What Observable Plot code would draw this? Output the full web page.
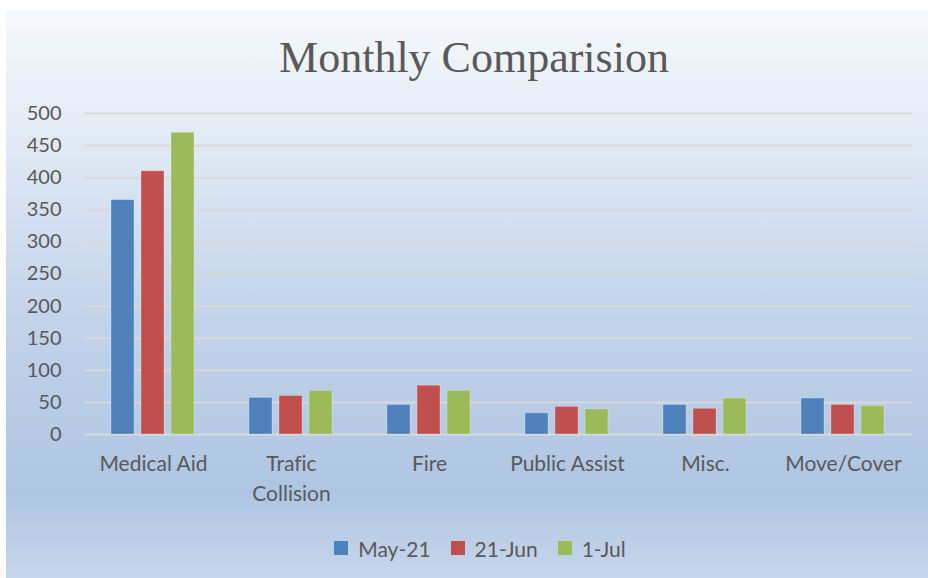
<!DOCTYPE html>
<html>
<head>
<meta charset="utf-8">
<script src="https://cdn.jsdelivr.net/npm/d3@7"></script>
<script src="https://cdn.jsdelivr.net/npm/@observablehq/plot@0.6"></script>
<style>
  html, body { margin: 0; padding: 0; background: #ffffff; }
  #chart {
    position: absolute; left: 6px; top: 10px; width: 922px; height: 568px;
    background: linear-gradient(to bottom, #f6f9fd 0%, #dfe8f4 25%, #c2d3e9 55%, #afc5e2 85%, #c6d7eb 100%);
    font-family: Lato, "Open Sans", sans-serif; color: #595959;
    font-variant-ligatures: none;
  }
  #chart svg text { font-variant-ligatures: none; }
  #title {
    height: 90px; box-sizing: border-box; padding-top: 23px; padding-left: 14px;
    text-align: center; font-family: "Liberation Serif", serif; font-size: 44px; color: #595959;
    line-height: 50px;
  }
  #legend {
    height: 58px; display: flex; justify-content: center; align-items: center;
    font-size: 21px; gap: 20px; padding-left: 26px; padding-bottom: 2px; box-sizing: border-box;
  }
  .item { display: flex; align-items: center; gap: 10px; }
  .sw { width: 14px; height: 14px; display: inline-block; }
</style>
</head>
<body>
<div id="chart">
  <div id="title">Monthly Comparision</div>
  <div id="plot"></div>
  <div id="legend"></div>
</div>
<script>
const categories = ["Medical Aid", "Trafic Collision", "Fire", "Public Assist", "Misc.", "Move/Cover"];
const categoryLabels = ["Medical Aid", "Trafic\nCollision", "Fire", "Public Assist", "Misc.", "Move/Cover"];
const series = ["May-21", "21-Jun", "1-Jul"];
const colors = ["#4f81bd", "#c0504d", "#9bbb59"];
const may21 = [365, 57, 46, 33, 46, 56];
const jun21 = [410, 60, 76, 43, 40, 46];
const jul1  = [470, 68, 68, 39, 56, 44];
const yTicks = [0, 50, 100, 150, 200, 250, 300, 350, 400, 450, 500];

const values = [may21, jun21, jul1];
const data = [];
categories.forEach((c, i) => series.forEach((s, j) => data.push({category: c, series: s, value: values[j][i]})));
const labelOf = new Map(categories.map((c, i) => [c, categoryLabels[i]]));

const chart = Plot.plot({
  width: 922,
  height: 420,
  marginTop: 13,
  marginBottom: 86,
  marginLeft: 77,
  marginRight: 16,
  style: {background: "transparent", fontFamily: "Lato, 'Open Sans', sans-serif", color: "#595959"},
  fx: {domain: categories, padding: 0, label: null},
  x: {domain: series, paddingInner: 0.22, paddingOuter: 0.87, axis: null},
  y: {domain: [0, 500], ticks: yTicks, label: null},
  color: {domain: series, range: colors},
  marks: [
    Plot.gridY(yTicks, {stroke: "#d9d9d9", strokeOpacity: 1, strokeWidth: 2}),
    Plot.axisY(yTicks, {tickSize: 0, tickPadding: 23, fontSize: 20, fill: "#595959", label: null}),
    Plot.axisFx({anchor: "bottom", tickSize: 0, tickPadding: 16, fontSize: 21, fill: "#595959", label: null, lineHeight: 1.4, tickFormat: d => labelOf.get(d)}),
    Plot.barY(data, {fx: "category", x: "series", y: "value", fill: "series", stroke: "#ffffff", strokeOpacity: 0.25, strokeWidth: 1}),
  ]
});
document.getElementById("plot").appendChild(chart);

const legend = document.getElementById("legend");
series.forEach((s, i) => {
  const item = document.createElement("div");
  item.className = "item";
  item.innerHTML = `<span class="sw" style="background:${colors[i]}"></span><span>${s}</span>`;
  legend.appendChild(item);
});
</script>
</body>
</html>
